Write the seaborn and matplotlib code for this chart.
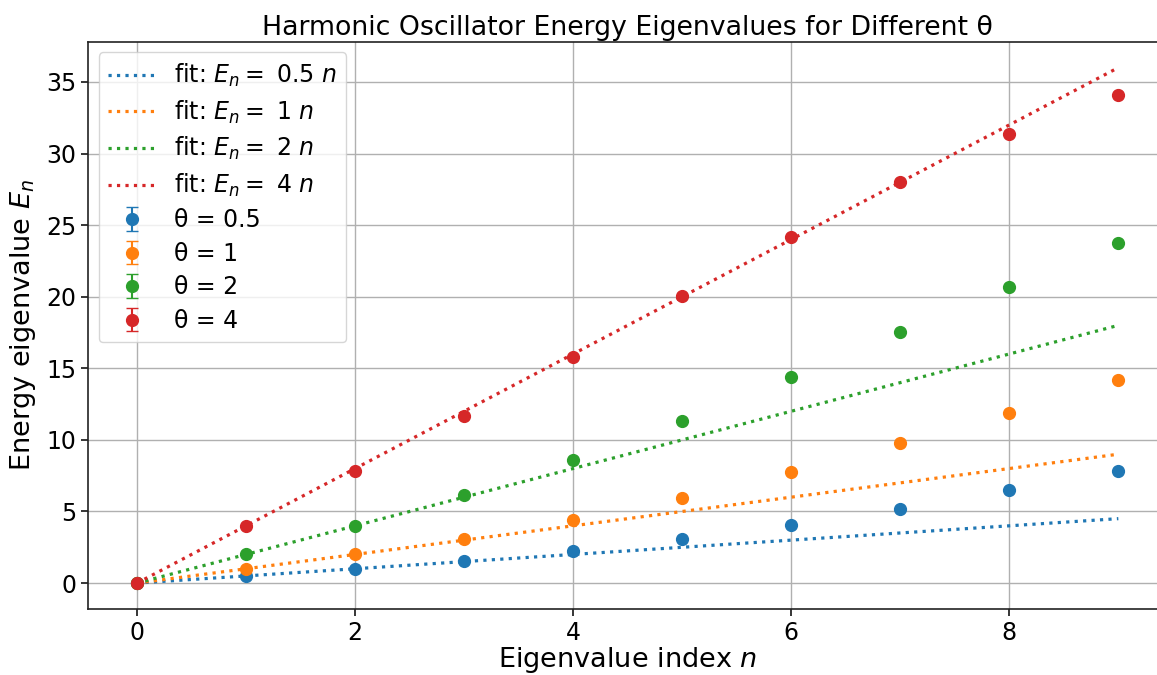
import numpy as np
import pandas as pd
import matplotlib
matplotlib.use("Agg")
import matplotlib.pyplot as plt
import seaborn as sns

n_index = [0, 1, 2, 3, 4, 5, 6, 7, 8, 9]
thetas = ["0.5", "1", "2", "4"]
E_theta_05 = [0, 0.49, 0.99, 1.54, 2.23, 3.06, 4.07, 5.20, 6.50, 7.84]
E_theta_1 = [0, 1.00, 2.00, 3.10, 4.40, 5.94, 7.75, 9.75, 11.90, 14.15]
E_theta_2 = [0, 2.03, 4.00, 6.12, 8.57, 11.33, 14.36, 17.53, 20.69, 23.74]
E_theta_4 = [0, 4.00, 7.84, 11.70, 15.78, 20.02, 24.18, 28.00, 31.35, 34.10]
E_err = [0, 0, 0, 0, 0, 0, 0, 0, 0, 0]
fit_n = [0, 9]
fit_05 = [0, 4.5]
fit_1 = [0, 9]
fit_2 = [0, 18]
fit_4 = [0, 36]
fit_labels = ["0.5", "1", "2", "4"]

series = [E_theta_05, E_theta_1, E_theta_2, E_theta_4]
fits = [fit_05, fit_1, fit_2, fit_4]
colors = ["#1f77b4", "#ff7f0e", "#2ca02c", "#d62728"]

plt.rcParams["font.family"] = ["DejaVu Sans"]
plt.rcParams["mathtext.fontset"] = "dejavusans"

fig = plt.figure(figsize=(11.57, 6.75), dpi=100)
ax = fig.add_axes([0.076, 0.098, 0.933, 0.840])

for th, ys, col in zip(thetas, series, colors):
    ax.errorbar(n_index, ys, yerr=E_err, fmt="o", color=col, markersize=8.5,
                capsize=4, elinewidth=1.5, label=f"θ = {th}")

for lab, fy, col in zip(fit_labels, fits, colors):
    df = pd.DataFrame({"n": fit_n, "E": fy})
    sns.lineplot(data=df, x="n", y="E", ax=ax, color=col, linestyle=":",
                 linewidth=2.3, label=rf"fit: $E_n = $ {lab} $n$")

ax.set_xlim(-0.45, 9.45)
ax.set_ylim(-1.8, 37.8)
ax.grid(True, color="#b0b0b0", linewidth=1.0)
ax.tick_params(labelsize=17, length=5, width=1.1, colors="black")
for s in ax.spines.values():
    s.set_color("#222222")
    s.set_linewidth(1.2)
ax.set_xlabel(r"Eigenvalue index $n$", fontsize=19.5, labelpad=0)
ax.set_ylabel(r"Energy eigenvalue $E_n$", fontsize=19.5, labelpad=6)
ax.set_title("Harmonic Oscillator Energy Eigenvalues for Different θ", fontsize=19.3, pad=5)
ax.legend(loc="upper left", fontsize=17, framealpha=0.8, labelspacing=0.4,
          borderaxespad=0.45)

fig.savefig("out.png", dpi=100)
